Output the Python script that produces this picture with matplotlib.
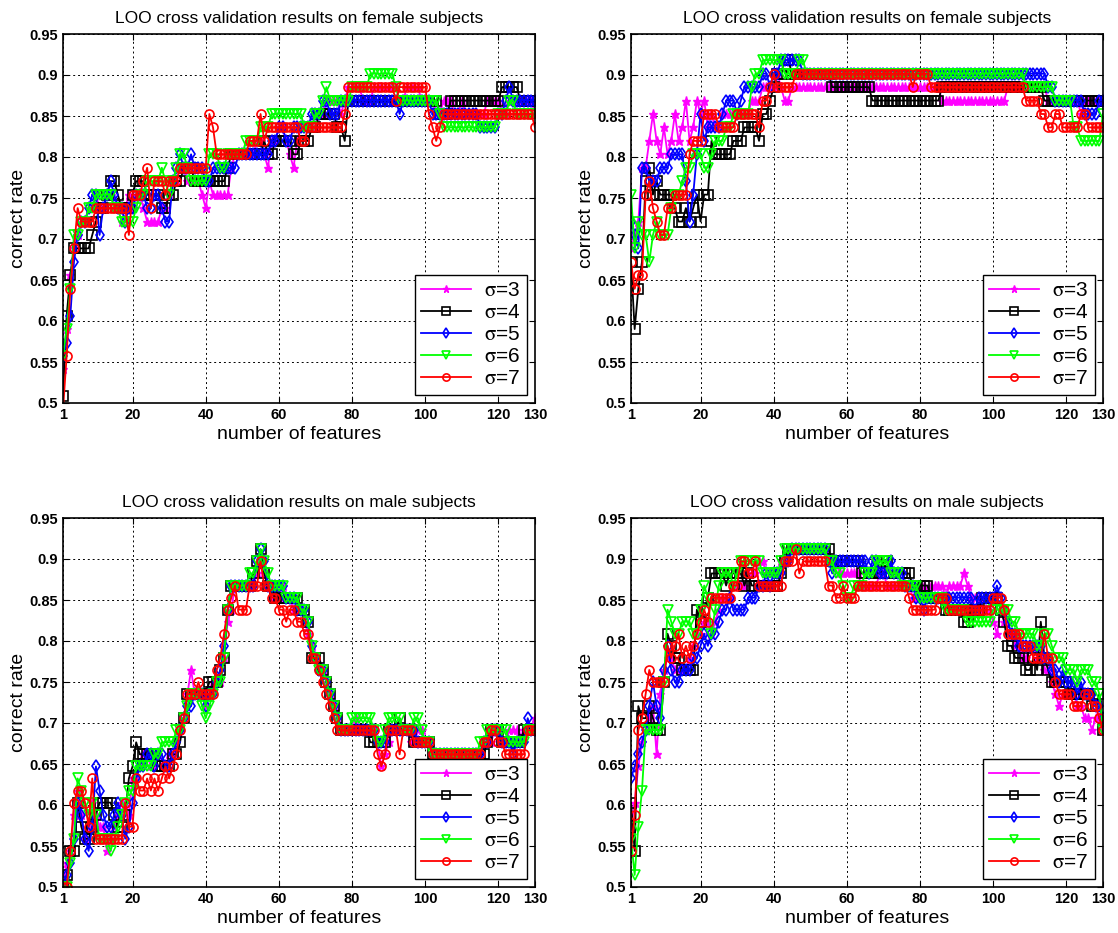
import numpy as np
import matplotlib.pyplot as plt

plt.rcParams['font.family'] = ['Liberation Sans', 'DejaVu Sans']
plt.rcParams['mathtext.fontset'] = 'stix'

# number of subjects in each group (correct rate = correct count / subjects)
n_female = 61
n_male = 68
features = np.arange(1, 131)

# ---- female, left panel: number of correctly classified subjects ----
f1_s3 = [33, 36, 40, 42, 43, 44, 44, 45, 45, 46, 45, 45, 46, 46, 45, 45, 44, 45, 46, 45,
         46, 46, 45, 44, 44, 44, 44, 45, 45, 46, 47, 47, 48, 48, 47, 47, 47, 47, 46, 45,
         47, 46, 46, 46, 46, 46, 48, 49, 49, 49, 49, 49, 49, 50, 50, 49, 48, 50, 50, 51,
         51, 50, 49, 48, 50, 51, 51, 51, 51, 51, 52, 52, 53, 53, 53, 53, 52, 53, 54, 54,
         54, 54, 53, 53, 53, 54, 54, 54, 54, 54, 54, 54, 53, 53, 54, 54, 54, 54, 53, 53,
         53, 53, 52, 52, 53, 53, 53, 52, 52, 53, 52, 52, 52, 52, 52, 52, 53, 53, 53, 53,
         52, 52, 53, 53, 53, 53, 53, 53, 53, 52]
f1_s4 = [31, 37, 40, 42, 42, 42, 42, 42, 43, 44, 45, 45, 46, 47, 47, 46, 45, 45, 45, 46,
         47, 47, 47, 46, 46, 46, 46, 45, 45, 46, 46, 47, 47, 48, 48, 48, 47, 47, 47, 47,
         47, 47, 47, 47, 47, 48, 49, 49, 49, 49, 49, 49, 49, 49, 49, 50, 49, 49, 50, 50,
         50, 50, 50, 49, 49, 50, 50, 50, 51, 51, 52, 52, 52, 52, 52, 51, 51, 50, 53, 53,
         53, 53, 53, 53, 53, 53, 53, 53, 53, 53, 53, 53, 53, 53, 53, 53, 53, 53, 53, 53,
         53, 53, 53, 52, 52, 52, 53, 53, 53, 53, 53, 53, 53, 53, 53, 53, 53, 53, 53, 53,
         54, 54, 54, 54, 54, 53, 53, 53, 53, 53]
f1_s5 = [34, 35, 37, 41, 43, 44, 44, 45, 46, 46, 43, 45, 46, 47, 46, 45, 45, 44, 45, 45,
         46, 46, 46, 45, 45, 46, 46, 45, 44, 44, 47, 48, 49, 48, 48, 49, 48, 48, 48, 47,
         47, 48, 48, 48, 48, 48, 48, 48, 49, 49, 49, 49, 49, 49, 49, 49, 49, 50, 50, 51,
         51, 50, 50, 51, 51, 51, 51, 51, 52, 52, 52, 53, 53, 52, 52, 52, 53, 53, 53, 53,
         53, 53, 53, 53, 53, 53, 53, 53, 53, 53, 53, 53, 52, 53, 53, 53, 53, 53, 53, 53,
         53, 52, 52, 52, 52, 52, 52, 52, 52, 52, 52, 52, 52, 52, 51, 51, 51, 51, 51, 52,
         52, 53, 54, 53, 53, 53, 53, 53, 53, 53]
f1_s6 = [34, 36, 39, 43, 43, 44, 44, 45, 45, 46, 46, 46, 46, 46, 45, 45, 44, 44, 44, 44,
         45, 46, 46, 47, 47, 47, 47, 48, 47, 46, 47, 48, 49, 49, 48, 47, 47, 47, 47, 47,
         49, 49, 49, 48, 48, 49, 49, 49, 49, 49, 50, 50, 50, 50, 51, 51, 51, 52, 52, 52,
         52, 52, 52, 52, 52, 52, 51, 51, 51, 52, 52, 53, 54, 53, 53, 53, 53, 53, 53, 54,
         54, 54, 54, 54, 55, 55, 55, 55, 55, 55, 55, 54, 53, 53, 53, 53, 53, 53, 53, 53,
         53, 53, 53, 52, 51, 51, 51, 51, 51, 51, 51, 51, 51, 51, 51, 51, 51, 51, 51, 52,
         52, 52, 53, 53, 52, 52, 52, 52, 52, 52]
f1_s7 = [30, 34, 39, 42, 45, 44, 44, 44, 44, 45, 45, 45, 45, 45, 45, 45, 45, 45, 43, 46,
         46, 46, 47, 48, 45, 47, 47, 47, 46, 47, 47, 47, 48, 48, 48, 48, 48, 48, 48, 48,
         52, 51, 49, 49, 49, 49, 49, 49, 49, 49, 49, 50, 50, 50, 52, 50, 51, 51, 51, 51,
         51, 51, 51, 51, 51, 50, 50, 51, 51, 51, 51, 51, 51, 51, 51, 51, 51, 52, 54, 54,
         54, 54, 54, 54, 54, 54, 54, 54, 54, 54, 54, 53, 54, 54, 54, 54, 54, 54, 54, 54,
         52, 51, 50, 51, 52, 52, 52, 52, 52, 52, 52, 52, 52, 52, 52, 52, 52, 52, 52, 52,
         52, 52, 52, 52, 52, 52, 52, 52, 52, 51]

# ---- female, right panel ----
f2_s3 = [42, 43, 44, 48, 48, 50, 52, 50, 49, 51, 49, 50, 52, 50, 51, 53, 50, 51, 53, 52,
         53, 51, 52, 51, 51, 52, 52, 52, 52, 52, 52, 52, 52, 53, 53, 53, 54, 54, 54, 54,
         55, 54, 53, 53, 54, 54, 54, 54, 54, 54, 54, 54, 54, 54, 54, 54, 54, 54, 54, 54,
         54, 54, 54, 54, 54, 54, 54, 54, 54, 54, 54, 54, 54, 54, 54, 54, 54, 54, 54, 54,
         54, 54, 54, 54, 54, 53, 53, 53, 53, 53, 53, 53, 53, 53, 53, 53, 53, 53, 53, 53,
         53, 53, 53, 54, 54, 54, 54, 54, 54, 54, 54, 54, 54, 54, 53, 53, 53, 53, 53, 53,
         53, 53, 53, 52, 53, 53, 53, 53, 53, 53]
f2_s4 = [41, 36, 39, 41, 47, 48, 46, 47, 46, 46, 46, 46, 45, 44, 44, 45, 44, 45, 46, 44,
         46, 46, 50, 49, 49, 49, 49, 49, 50, 50, 50, 51, 51, 51, 51, 50, 52, 52, 53, 54,
         55, 55, 56, 56, 55, 55, 55, 55, 55, 55, 55, 55, 55, 55, 55, 54, 54, 54, 54, 54,
         54, 54, 54, 54, 54, 54, 53, 53, 53, 53, 53, 53, 53, 53, 53, 53, 53, 53, 53, 53,
         53, 53, 53, 53, 53, 54, 54, 54, 54, 54, 54, 54, 54, 54, 54, 54, 54, 54, 54, 54,
         54, 54, 54, 54, 54, 54, 54, 54, 54, 54, 54, 54, 54, 53, 53, 53, 53, 53, 53, 53,
         53, 53, 53, 53, 53, 53, 53, 53, 53, 53]
f2_s5 = [44, 43, 42, 48, 48, 47, 47, 47, 48, 48, 48, 49, 49, 49, 49, 47, 44, 46, 49, 52,
         50, 51, 51, 51, 51, 52, 53, 53, 53, 52, 53, 54, 54, 54, 54, 54, 55, 55, 54, 55,
         55, 56, 56, 56, 56, 56, 56, 55, 55, 55, 55, 55, 55, 55, 55, 55, 55, 55, 55, 55,
         55, 55, 55, 55, 55, 55, 55, 55, 55, 55, 55, 55, 55, 55, 55, 55, 55, 55, 55, 55,
         55, 55, 55, 55, 55, 55, 55, 55, 55, 55, 55, 55, 55, 55, 55, 55, 55, 55, 55, 55,
         55, 55, 55, 55, 55, 55, 55, 55, 55, 55, 55, 55, 55, 55, 54, 54, 53, 53, 53, 53,
         53, 53, 53, 53, 52, 52, 52, 52, 53, 53]
f2_s6 = [46, 42, 44, 43, 43, 41, 43, 44, 43, 43, 43, 45, 46, 46, 47, 48, 48, 49, 49, 49,
         48, 48, 49, 50, 50, 50, 51, 51, 52, 52, 52, 52, 52, 54, 55, 55, 56, 56, 56, 56,
         56, 56, 55, 55, 55, 55, 56, 56, 55, 55, 55, 55, 55, 55, 55, 55, 55, 55, 55, 55,
         55, 55, 55, 55, 55, 55, 55, 55, 55, 55, 55, 55, 55, 55, 55, 55, 55, 55, 55, 55,
         55, 55, 55, 55, 55, 55, 55, 55, 55, 55, 55, 55, 55, 55, 55, 55, 55, 55, 55, 55,
         55, 55, 55, 55, 55, 55, 55, 55, 54, 54, 54, 54, 54, 54, 54, 54, 53, 53, 53, 53,
         53, 51, 51, 50, 50, 50, 50, 50, 50, 52]
f2_s7 = [41, 39, 40, 40, 46, 47, 45, 44, 43, 43, 45, 45, 46, 46, 46, 46, 49, 50, 50, 50,
         52, 52, 52, 52, 51, 51, 51, 51, 51, 52, 52, 52, 52, 52, 52, 51, 53, 53, 54, 55,
         54, 54, 54, 54, 54, 55, 55, 55, 55, 55, 55, 55, 55, 55, 55, 55, 55, 55, 55, 55,
         55, 55, 55, 55, 55, 55, 55, 55, 55, 55, 55, 55, 55, 55, 55, 55, 55, 54, 55, 55,
         55, 55, 54, 54, 54, 54, 54, 54, 54, 54, 54, 54, 54, 54, 54, 54, 54, 54, 54, 54,
         54, 54, 54, 54, 54, 54, 54, 54, 53, 53, 53, 53, 52, 52, 51, 51, 52, 52, 51, 51,
         51, 51, 51, 52, 52, 51, 51, 51, 51, 51]

# ---- male, left panel ----
m1_s3 = [34, 36, 37, 40, 42, 40, 38, 39, 41, 40, 39, 39, 37, 38, 39, 40, 41, 41, 40, 43,
         43, 44, 45, 45, 44, 44, 45, 44, 44, 45, 45, 46, 47, 48, 50, 52, 50, 50, 50, 49,
         50, 51, 51, 51, 53, 56, 57, 59, 59, 59, 59, 59, 59, 60, 61, 60, 59, 58, 58, 58,
         59, 58, 58, 57, 57, 57, 56, 55, 54, 53, 52, 52, 51, 50, 49, 48, 47, 47, 47, 47,
         48, 47, 47, 47, 47, 47, 46, 44, 45, 46, 47, 47, 47, 47, 47, 46, 47, 47, 47, 46,
         46, 45, 45, 45, 45, 45, 45, 45, 45, 45, 45, 45, 45, 45, 45, 46, 46, 46, 47, 47,
         46, 46, 47, 47, 47, 46, 47, 47, 47, 48]
m1_s4 = [34, 35, 37, 37, 41, 39, 38, 38, 39, 40, 41, 41, 41, 41, 40, 39, 39, 40, 43, 44,
         46, 45, 45, 45, 45, 45, 44, 44, 44, 44, 45, 45, 46, 48, 50, 50, 50, 50, 50, 50,
         51, 51, 51, 52, 53, 57, 59, 59, 59, 59, 59, 59, 60, 61, 62, 60, 59, 59, 58, 58,
         58, 58, 58, 58, 58, 57, 57, 56, 53, 53, 53, 52, 51, 50, 49, 48, 47, 47, 47, 47,
         47, 47, 47, 47, 46, 46, 46, 46, 46, 47, 47, 47, 48, 47, 47, 47, 46, 46, 46, 46,
         46, 45, 45, 45, 45, 45, 45, 45, 45, 45, 45, 45, 45, 45, 45, 45, 46, 47, 47, 47,
         46, 46, 46, 46, 46, 46, 47, 47, 47, 47]
m1_s5 = [34, 35, 36, 38, 41, 40, 38, 37, 39, 44, 42, 40, 39, 39, 40, 41, 40, 38, 39, 41,
         43, 44, 44, 45, 45, 44, 45, 45, 44, 44, 45, 46, 47, 48, 49, 49, 50, 50, 50, 49,
         50, 50, 51, 52, 54, 57, 59, 59, 59, 59, 59, 59, 59, 61, 62, 61, 59, 59, 59, 59,
         59, 58, 58, 58, 57, 57, 57, 56, 54, 53, 52, 52, 51, 50, 49, 48, 47, 47, 47, 47,
         47, 47, 47, 47, 47, 47, 46, 46, 46, 47, 47, 47, 47, 47, 47, 47, 47, 46, 46, 46,
         46, 45, 45, 45, 45, 45, 45, 45, 45, 45, 45, 45, 45, 45, 45, 46, 46, 47, 47, 47,
         46, 46, 46, 45, 46, 46, 46, 48, 47, 47]
m1_s6 = [34, 34, 36, 38, 43, 42, 41, 40, 41, 40, 38, 38, 38, 37, 38, 39, 40, 41, 42, 42,
         44, 44, 44, 44, 44, 45, 45, 46, 46, 46, 46, 47, 47, 48, 49, 50, 50, 50, 49, 48,
         49, 50, 51, 51, 53, 57, 59, 59, 59, 59, 59, 60, 60, 61, 62, 61, 60, 59, 59, 59,
         59, 58, 58, 58, 58, 57, 57, 56, 54, 53, 52, 52, 51, 50, 49, 48, 47, 47, 47, 48,
         48, 48, 48, 48, 48, 47, 46, 46, 47, 48, 48, 48, 48, 47, 47, 47, 48, 48, 47, 46,
         46, 45, 45, 45, 45, 45, 45, 45, 45, 45, 45, 45, 45, 45, 46, 46, 47, 47, 47, 47,
         47, 47, 46, 46, 46, 46, 46, 47, 47, 47]
m1_s7 = [34, 34, 37, 41, 42, 42, 41, 39, 43, 38, 38, 38, 38, 38, 38, 38, 38, 41, 39, 39,
         43, 42, 42, 43, 42, 43, 42, 43, 44, 43, 44, 45, 47, 48, 50, 50, 50, 51, 50, 50,
         50, 50, 52, 53, 55, 57, 58, 59, 57, 57, 57, 59, 59, 59, 61, 59, 59, 58, 58, 57,
         57, 56, 57, 57, 56, 56, 55, 55, 53, 53, 52, 51, 50, 49, 48, 47, 47, 47, 47, 47,
         47, 47, 47, 47, 47, 47, 45, 44, 45, 47, 47, 47, 45, 47, 47, 47, 46, 46, 46, 46,
         46, 45, 45, 45, 45, 45, 45, 45, 45, 45, 45, 45, 45, 45, 45, 46, 46, 47, 47, 46,
         46, 45, 45, 45, 45, 45, 45, 47, 47, 47]

# ---- male, right panel ----
m2_s3 = [39, 41, 44, 46, 47, 48, 49, 45, 50, 52, 53, 53, 52, 52, 52, 52, 53, 54, 55, 55,
         56, 56, 55, 56, 57, 58, 58, 58, 59, 59, 59, 59, 60, 60, 60, 61, 61, 60, 60, 60,
         60, 61, 61, 62, 62, 62, 62, 62, 62, 62, 62, 62, 62, 62, 61, 61, 61, 60, 60, 60,
         60, 60, 60, 59, 59, 59, 59, 59, 60, 60, 59, 59, 59, 59, 59, 59, 59, 58, 58, 59,
         59, 58, 59, 59, 59, 59, 58, 59, 59, 59, 59, 60, 59, 58, 58, 58, 57, 57, 57, 56,
         55, 57, 56, 55, 55, 54, 54, 53, 53, 54, 54, 53, 53, 52, 52, 51, 50, 49, 50, 50,
         50, 50, 49, 49, 48, 48, 47, 48, 48, 47]
m2_s4 = [41, 37, 49, 48, 48, 49, 48, 47, 47, 51, 55, 54, 53, 53, 52, 52, 52, 52, 57, 56,
         57, 58, 60, 60, 60, 60, 59, 60, 60, 60, 60, 59, 60, 59, 59, 59, 59, 59, 59, 59,
         59, 60, 61, 62, 62, 62, 62, 62, 62, 62, 62, 62, 62, 62, 62, 61, 61, 61, 61, 61,
         61, 61, 61, 60, 60, 60, 60, 60, 60, 61, 61, 60, 60, 60, 60, 60, 60, 59, 59, 59,
         59, 59, 58, 58, 58, 58, 57, 57, 57, 57, 57, 56, 56, 57, 57, 57, 58, 58, 58, 58,
         58, 57, 56, 54, 54, 53, 53, 53, 52, 52, 53, 52, 56, 53, 52, 51, 51, 51, 51, 51,
         50, 50, 50, 50, 50, 50, 49, 49, 50, 47]
m2_s5 = [43, 44, 45, 46, 47, 49, 51, 49, 48, 52, 54, 52, 51, 51, 52, 52, 52, 53, 53, 54,
         55, 54, 55, 55, 56, 57, 57, 58, 57, 57, 57, 57, 58, 58, 58, 59, 59, 60, 59, 60,
         60, 60, 61, 61, 62, 62, 62, 62, 62, 62, 62, 62, 62, 62, 61, 60, 61, 61, 61, 61,
         61, 61, 61, 61, 61, 60, 61, 61, 60, 60, 60, 61, 60, 60, 60, 59, 59, 59, 58, 58,
         57, 58, 58, 58, 58, 58, 58, 58, 58, 58, 58, 58, 58, 58, 57, 58, 58, 58, 58, 58,
         59, 58, 57, 56, 55, 55, 54, 54, 54, 54, 54, 54, 54, 53, 53, 52, 52, 51, 52, 51,
         51, 51, 50, 51, 50, 50, 50, 49, 49, 48]
m2_s6 = [38, 35, 39, 42, 47, 47, 47, 47, 47, 51, 57, 56, 55, 55, 56, 56, 56, 55, 55, 57,
         59, 58, 55, 57, 59, 60, 60, 60, 59, 60, 61, 61, 61, 61, 61, 61, 60, 60, 60, 60,
         60, 61, 62, 62, 62, 62, 62, 62, 62, 62, 62, 62, 62, 62, 61, 61, 60, 60, 59, 58,
         58, 59, 59, 59, 60, 60, 60, 61, 61, 61, 61, 60, 60, 60, 59, 59, 59, 59, 59, 58,
         58, 58, 58, 58, 58, 58, 57, 57, 57, 57, 57, 57, 56, 56, 56, 56, 56, 56, 56, 57,
         57, 57, 57, 57, 56, 56, 55, 55, 55, 55, 55, 54, 54, 55, 55, 54, 53, 53, 53, 52,
         52, 52, 51, 52, 52, 52, 51, 51, 50, 47]
m2_s7 = [37, 40, 47, 48, 50, 52, 51, 51, 51, 51, 54, 53, 54, 55, 53, 54, 53, 54, 55, 56,
         57, 56, 58, 58, 58, 58, 58, 58, 59, 59, 61, 61, 60, 60, 61, 59, 59, 59, 59, 59,
         59, 59, 61, 61, 61, 62, 60, 61, 61, 61, 61, 61, 61, 61, 59, 59, 58, 58, 59, 58,
         58, 58, 59, 59, 59, 59, 59, 59, 59, 59, 59, 59, 59, 59, 59, 59, 58, 57, 57, 57,
         57, 57, 57, 57, 58, 58, 58, 57, 57, 57, 57, 57, 57, 57, 57, 57, 57, 57, 57, 58,
         58, 58, 57, 55, 55, 55, 55, 54, 54, 54, 53, 53, 53, 55, 53, 53, 51, 50, 50, 50,
         50, 49, 49, 49, 50, 50, 49, 49, 48, 47]

labels = [r'$\mathrm{\sigma}$=3', r'$\mathrm{\sigma}$=4', r'$\mathrm{\sigma}$=5',
          r'$\mathrm{\sigma}$=6', r'$\mathrm{\sigma}$=7']
colors = ['#ff00ff', 'black', 'blue', '#00ff00', 'red']
markers = ['*', 's', 'd', 'v', 'o']

panels = [
    ([63/1118, 1-403/933, 472/1118, 369/933], 'LOO cross validation results on female subjects',
     n_female, [f1_s3, f1_s4, f1_s5, f1_s6, f1_s7]),
    ([631/1118, 1-403/933, 472/1118, 369/933], 'LOO cross validation results on female subjects',
     n_female, [f2_s3, f2_s4, f2_s5, f2_s6, f2_s7]),
    ([63/1118, 1-887/933, 472/1118, 369/933], 'LOO cross validation results on male subjects',
     n_male, [m1_s3, m1_s4, m1_s5, m1_s6, m1_s7]),
    ([631/1118, 1-887/933, 472/1118, 369/933], 'LOO cross validation results on male subjects',
     n_male, [m2_s3, m2_s4, m2_s5, m2_s6, m2_s7]),
]

fig = plt.figure(figsize=(11.18, 9.33), dpi=100)

for pos, title, n, series in panels:
    ax = fig.add_axes(pos)
    for s, c, m, lab in zip(series, colors, markers, labels):
        rate = np.array(s) / n
        if m == '*':
            ax.plot(features, rate, color=c, marker=m, ms=6.5, lw=1.3, label=lab)
        else:
            ax.plot(features, rate, color=c, marker=m, ms=6.5, mfc='none', mew=1.2, lw=1.3, label=lab)
    ax.set_xlim(1, 130)
    ax.set_ylim(0.5, 0.95)
    ax.set_xticks([1, 20, 40, 60, 80, 100, 120, 130])
    yt = np.arange(0.5, 0.951, 0.05)
    ax.set_yticks(yt)
    ax.set_yticklabels(['%g' % round(v, 2) for v in yt])
    ax.grid(True, color='black', linestyle=(0, (2, 3)), linewidth=0.7)
    ax.tick_params(direction='in', top=True, right=True, length=4, labelsize=10.5)
    for t in ax.get_xticklabels() + ax.get_yticklabels():
        t.set_fontweight('bold')
    for sp in ax.spines.values():
        sp.set_linewidth(1.2)
    ax.set_title(title, fontsize=12.5, pad=8)
    ax.set_xlabel('number of features', fontsize=14, labelpad=3)
    ax.set_ylabel('correct rate', fontsize=14, labelpad=2)
    leg = ax.legend(loc='lower right', fontsize=15, fancybox=False, edgecolor='black',
                    framealpha=1, handlelength=2.4, labelspacing=0.15, borderaxespad=0.4,
                    borderpad=0.3, handletextpad=0.6, markerscale=0.8)
    leg.get_frame().set_linewidth(1.0)

fig.savefig('out.png', dpi=100)
